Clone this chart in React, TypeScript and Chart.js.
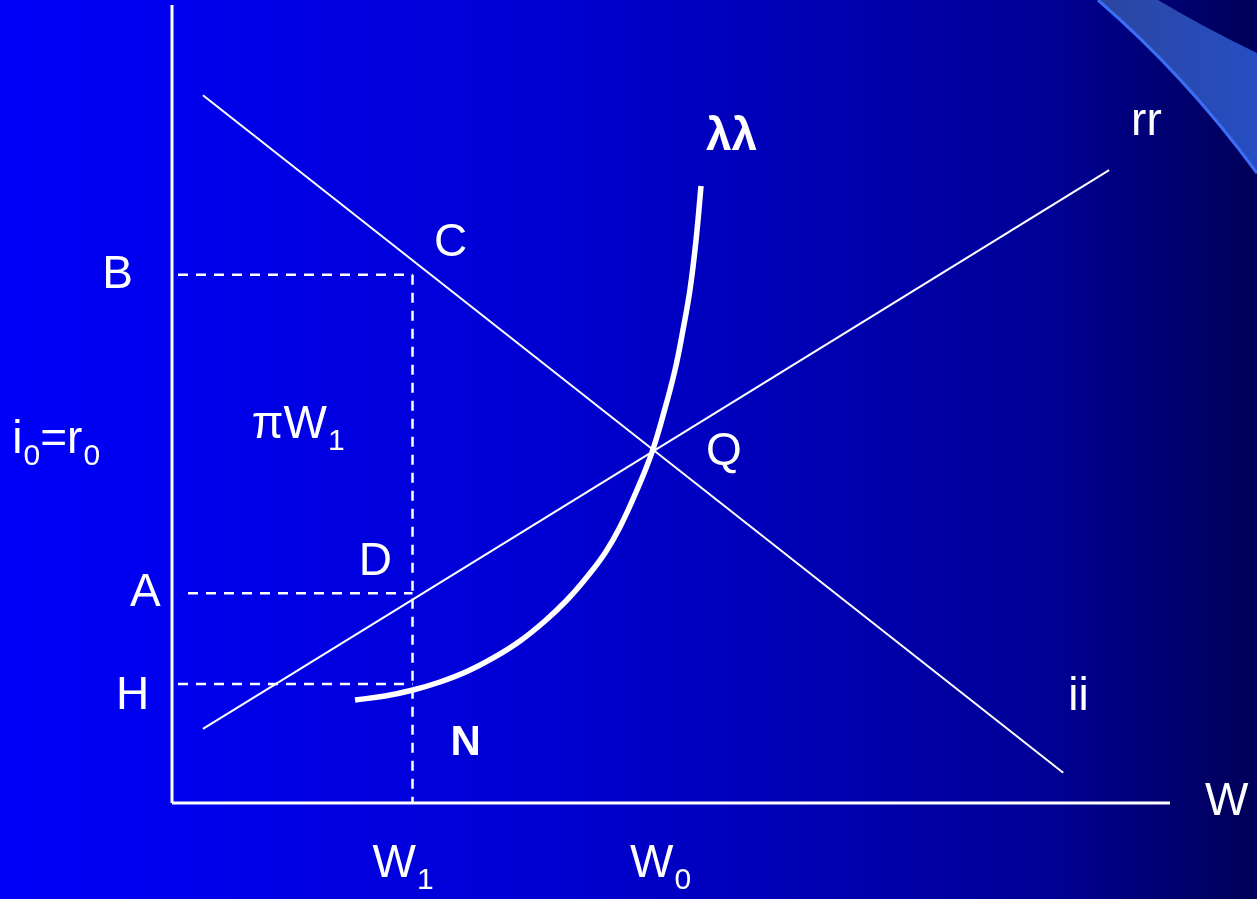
import React, { useEffect, useRef } from "react";
import { Chart, registerables } from "chart.js";

Chart.register(...registerables);

// ---- data (schematic units: W on x 0..100, interest rate on y 0..100) ----
const iiX = [3.1, 89.3];
const iiY = [88.7, 3.8];
const rrX = [3.1, 93.9];
const rrY = [9.3, 79.3];
const lambdaX = [18.34, 21.34, 24.15, 26.85, 29.66, 32.36, 34.87, 37.37, 39.58, 41.58, 43.39, 44.89, 46.59, 48.1, 49.3, 50.4, 51.2, 51.9, 52.51, 53.01];
const lambdaY = [12.91, 13.41, 14.16, 15.16, 16.54, 18.3, 20.3, 22.81, 25.44, 28.32, 31.33, 34.59, 39.22, 43.98, 48.99, 54.26, 59.27, 64.29, 70.55, 77.32];
const W1 = 24.1;
const levelB = 66.2;
const levelA = 26.3;
const levelH = 14.9;
const guideStartX = [0.6, 1.6, 0.6];

type Seg = [string, boolean];
type Label = { segs: Seg[]; x: number; y: number; bold?: boolean; size?: number };

const labels: Label[] = [
  { segs: [["B", false]], x: -7.0, y: 64.5 },
  { segs: [["C", false]], x: 26.25, y: 68.5 },
  { segs: [["πW", false], ["1", true]], x: 8.0, y: 45.7 },
  { segs: [["i", false], ["0", true], ["=r", false], ["0", true]], x: -16.0, y: 43.9 },
  { segs: [["D", false]], x: 18.7, y: 28.6 },
  { segs: [["A", false]], x: -4.2, y: 24.7 },
  { segs: [["H", false]], x: -5.6, y: 11.8 },
  { segs: [["Q", false]], x: 53.5, y: 42.4 },
  { segs: [["N", false]], x: 27.9, y: 6.0, bold: true, size: 42 },
  { segs: [["ii", false]], x: 89.8, y: 11.7 },
  { segs: [["rr", false]], x: 96.1, y: 83.7 },
  { segs: [["λλ", false]], x: 53.5, y: 81.8, bold: true },
  { segs: [["W", false]], x: 103.5, y: -1.5 },
  { segs: [["W", false], ["1", true]], x: 20.1, y: -9.3 },
  { segs: [["W", false], ["0", true]], x: 45.9, y: -9.3 },
];

const FONT = '"Liberation Sans", Arial, sans-serif';

const pts = (xs: number[], ys: number[]) => xs.map((x, i) => ({ x, y: ys[i] }));

const backgroundPlugin = {
  id: "bg",
  beforeDraw(chart: any) {
    const { ctx, width, height } = chart;
    ctx.save();
    const g = ctx.createLinearGradient(0, 0, width, 0);
    g.addColorStop(0, "rgb(0,0,250)");
    g.addColorStop(0.45, "rgb(0,0,208)");
    g.addColorStop(0.83, "rgb(0,0,150)");
    g.addColorStop(1, "rgb(0,0,88)");
    ctx.fillStyle = g;
    ctx.fillRect(0, 0, width, height);
    // decorative swoosh in the top-right corner
    const g2 = ctx.createLinearGradient(1100, 0, width, 0);
    g2.addColorStop(0, "rgb(42,70,160)");
    g2.addColorStop(1, "rgb(38,78,195)");
    ctx.beginPath();
    ctx.moveTo(1098, 0);
    ctx.quadraticCurveTo(1185, 75, 1257, 173);
    ctx.lineTo(1257, 53);
    ctx.quadraticCurveTo(1205, 28, 1158, 0);
    ctx.closePath();
    ctx.fillStyle = g2;
    ctx.fill();
    ctx.beginPath();
    ctx.moveTo(1098, 0);
    ctx.quadraticCurveTo(1185, 75, 1257, 173);
    ctx.strokeStyle = "rgb(60,110,245)";
    ctx.lineWidth = 3;
    ctx.stroke();
    ctx.restore();
  },
};

const labelPlugin = {
  id: "labels",
  afterDatasetsDraw(chart: any) {
    const { ctx, scales } = chart;
    ctx.save();
    ctx.fillStyle = "#ffffff";
    ctx.textBaseline = "alphabetic";
    ctx.textAlign = "left";
    for (const l of labels) {
      let px = scales.x.getPixelForValue(l.x);
      const py = scales.y.getPixelForValue(l.y);
      const size = l.size || 46;
      for (const [t, sub] of l.segs) {
        ctx.font = `${l.bold ? "bold " : ""}${sub ? 30 : size}px ${FONT}`;
        ctx.fillText(t, px, sub ? py + 12 : py);
        px += ctx.measureText(t).width + (sub ? 0 : 1);
      }
    }
    ctx.restore();
  },
};

export default function App() {
  const ref = useRef<HTMLCanvasElement | null>(null);
  useEffect(() => {
    if (!ref.current) return;
    const white = "#ffffff";
    const dashed = {
      borderColor: white,
      borderWidth: 2.5,
      borderDash: [10, 8],
      pointRadius: 0,
      showLine: true,
      clip: false as any,
    };
    const chart = new Chart(ref.current, {
      type: "scatter",
      data: {
        datasets: [
          { label: "y-axis", data: [{ x: 0, y: 0 }, { x: 0, y: 100 }], borderColor: white, borderWidth: 3, pointRadius: 0, showLine: true, clip: false as any },
          { label: "x-axis", data: [{ x: 0, y: 0 }, { x: 100, y: 0 }], borderColor: white, borderWidth: 3, pointRadius: 0, showLine: true, clip: false as any },
          { label: "B", data: [{ x: guideStartX[0], y: levelB }, { x: W1, y: levelB }], ...dashed },
          { label: "A", data: [{ x: guideStartX[1], y: levelA }, { x: W1, y: levelA }], ...dashed },
          { label: "H", data: [{ x: guideStartX[2], y: levelH }, { x: W1, y: levelH }], ...dashed },
          { label: "W1", data: [{ x: W1, y: levelB }, { x: W1, y: 0 }], ...dashed },
          { label: "ii", data: pts(iiX, iiY), borderColor: white, borderWidth: 2, pointRadius: 0, showLine: true },
          { label: "rr", data: pts(rrX, rrY), borderColor: white, borderWidth: 2, pointRadius: 0, showLine: true },
          {
            label: "λλ",
            data: pts(lambdaX, lambdaY),
            borderColor: white,
            borderWidth: 5.5,
            pointRadius: 0,
            showLine: true,
            tension: 0.4,
            borderCapStyle: "butt",
            borderJoinStyle: "round",
          } as any,
        ],
      },
      options: {
        responsive: false,
        animation: false,
        devicePixelRatio: 1,
        layout: { padding: { left: 172, right: 87, top: 5, bottom: 96 } },
        scales: {
          x: { type: "linear", min: 0, max: 100, display: false },
          y: { type: "linear", min: 0, max: 100, display: false },
        },
        plugins: { legend: { display: false }, tooltip: { enabled: false } },
        events: [],
      },
      plugins: [backgroundPlugin, labelPlugin],
    });
    return () => chart.destroy();
  }, []);
  return (
    <div style={{ position: "fixed", left: 0, top: 0, width: 1257, height: 899 }}>
      <canvas ref={ref} width={1257} height={899} style={{ display: "block" }} />
    </div>
  );
}
